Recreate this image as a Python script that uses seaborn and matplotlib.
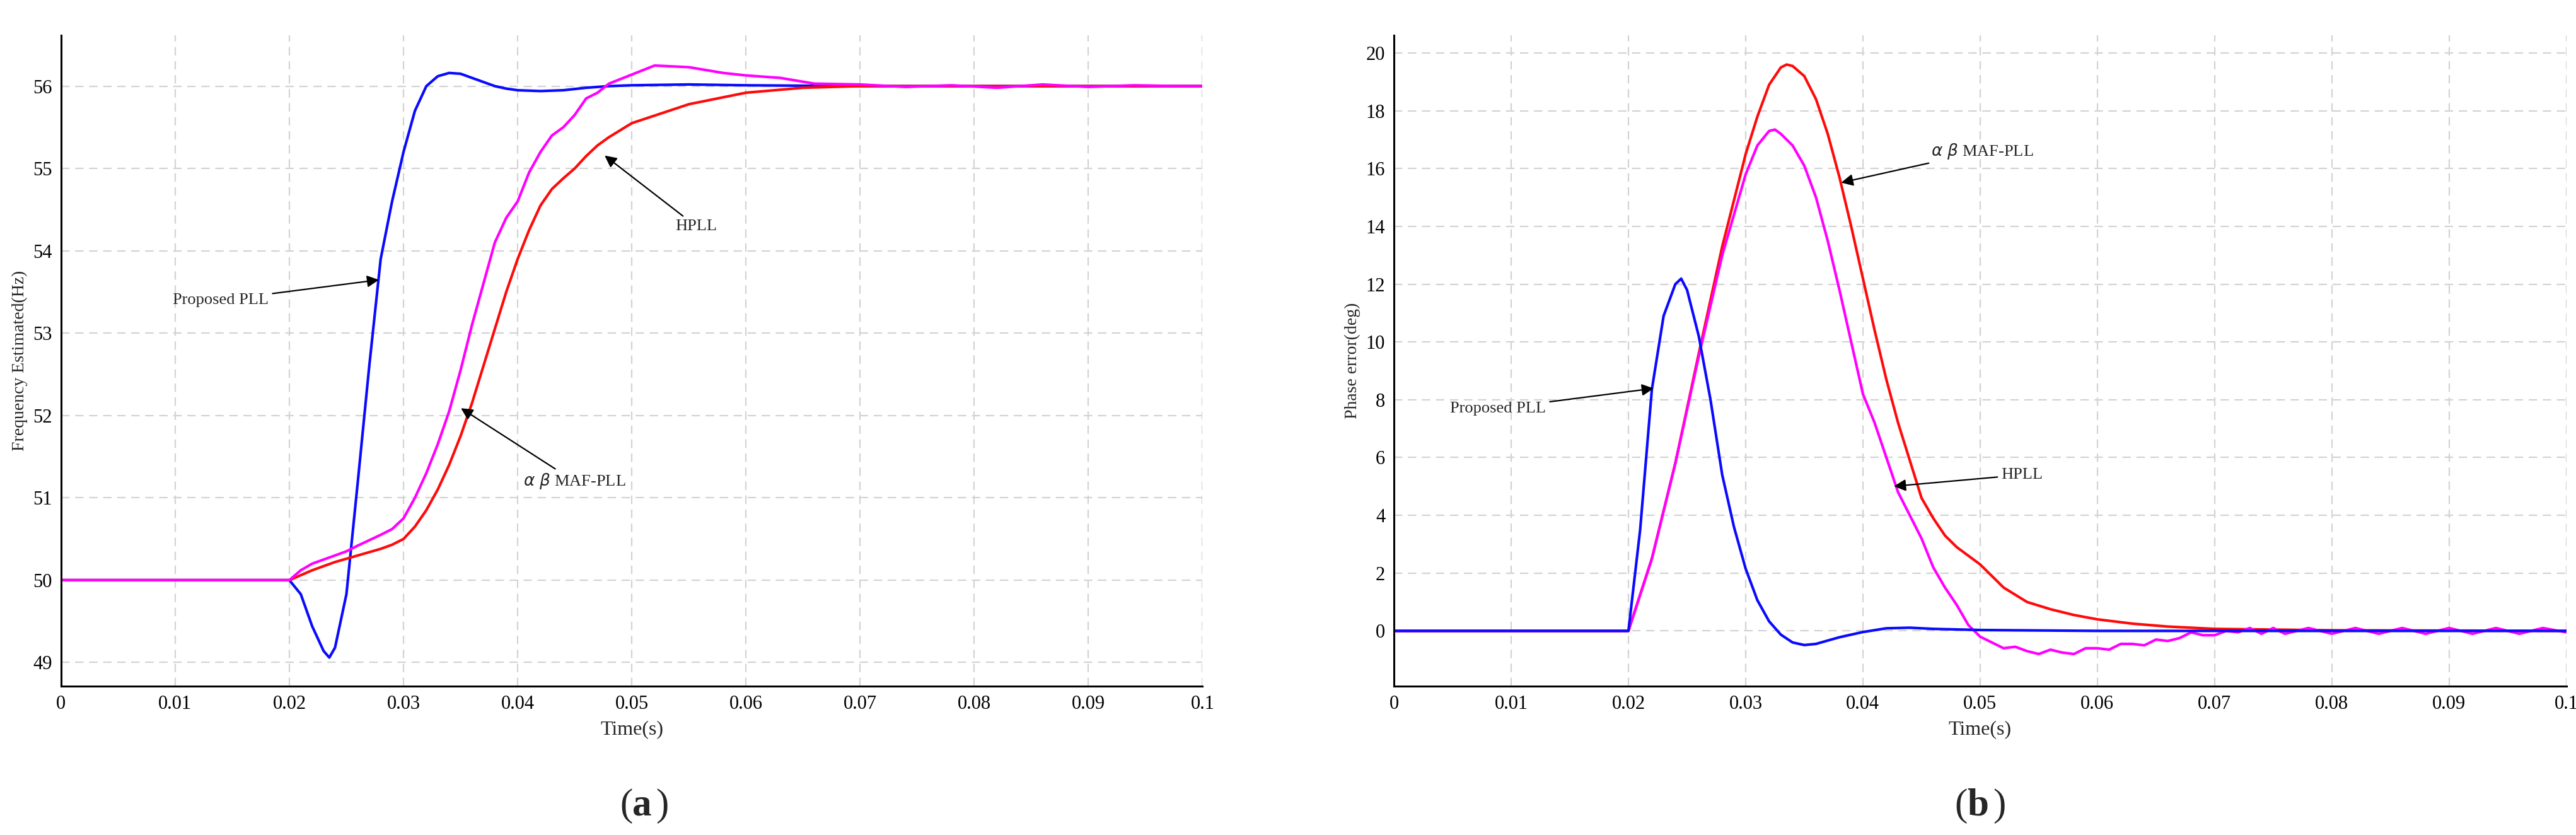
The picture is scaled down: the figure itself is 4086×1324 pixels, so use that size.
import numpy as np
import pandas as pd
import matplotlib
matplotlib.use("Agg")
import matplotlib.pyplot as plt
import seaborn as sns
from matplotlib.ticker import MultipleLocator

sns.set_theme(style="white")
plt.rcParams['font.family'] = ['Liberation Serif', 'DejaVu Serif']

# ---- panel (a): frequency estimated ----
t_prop_a = [0, 0.02, 0.021, 0.022, 0.023, 0.0235, 0.024, 0.025, 0.026, 0.027, 0.028, 0.029,
            0.030, 0.031, 0.032, 0.033, 0.034, 0.035, 0.036, 0.037, 0.038, 0.039, 0.040,
            0.042, 0.044, 0.046, 0.048, 0.05, 0.055, 0.06, 0.07, 0.1]
f_prop_a = [50, 50, 49.83, 49.44, 49.14, 49.06, 49.18, 49.83, 51.2, 52.6, 53.9, 54.6,
            55.2, 55.7, 56.0, 56.12, 56.16, 56.15, 56.1, 56.05, 56.0, 55.97, 55.95,
            55.94, 55.95, 55.98, 56.0, 56.01, 56.02, 56.01, 56.0, 56.0]

t_hpll_a = [0, 0.02, 0.022, 0.024, 0.026, 0.028, 0.029, 0.030, 0.031, 0.032, 0.033, 0.034,
            0.035, 0.036, 0.037, 0.038, 0.039, 0.040, 0.041, 0.042, 0.043, 0.044, 0.045,
            0.046, 0.047, 0.048, 0.05, 0.055, 0.06, 0.065, 0.07, 0.1]
f_hpll_a = [50, 50, 50.12, 50.22, 50.3, 50.38, 50.43, 50.5, 50.65, 50.85, 51.1, 51.4,
            51.75, 52.15, 52.6, 53.05, 53.5, 53.9, 54.25, 54.55, 54.75, 54.88, 55.0,
            55.15, 55.28, 55.38, 55.55, 55.78, 55.92, 55.98, 56.0, 56.0]

t_maf_a = [0, 0.02, 0.021, 0.022, 0.024, 0.025, 0.026, 0.028, 0.029, 0.030, 0.031, 0.032,
           0.033, 0.034, 0.035, 0.036, 0.037, 0.038, 0.039, 0.040, 0.041, 0.042, 0.043,
           0.044, 0.045, 0.046, 0.047, 0.048, 0.05, 0.052, 0.055, 0.058, 0.06, 0.063,
           0.066, 0.07, 0.074, 0.078, 0.082, 0.086, 0.09, 0.094, 0.098, 0.1]
f_maf_a = [50, 50, 50.12, 50.2, 50.3, 50.35, 50.42, 50.55, 50.62, 50.75, 51.0, 51.3,
           51.65, 52.05, 52.55, 53.1, 53.6, 54.1, 54.4, 54.6, 54.95, 55.2, 55.4,
           55.5, 55.65, 55.85, 55.92, 56.03, 56.14, 56.25, 56.23, 56.16, 56.13, 56.1,
           56.03, 56.02, 55.99, 56.01, 55.98, 56.02, 55.99, 56.01, 56.0, 56.0]

# ---- panel (b): phase error ----
t_prop_b = [0, 0.02, 0.021, 0.022, 0.023, 0.024, 0.0245, 0.025, 0.026, 0.027, 0.028, 0.029,
            0.030, 0.031, 0.032, 0.033, 0.034, 0.035, 0.036, 0.038, 0.040, 0.042, 0.044,
            0.046, 0.05, 0.06, 0.1]
e_prop_b = [0, 0, 3.5, 8.36, 10.9, 12.0, 12.19, 11.8, 10.2, 8.0, 5.4, 3.6,
            2.15, 1.06, 0.33, -0.13, -0.4, -0.49, -0.45, -0.22, -0.04, 0.09, 0.11,
            0.07, 0.03, 0.0, 0.0]

t_maf_b = [0, 0.02, 0.022, 0.024, 0.026, 0.028, 0.030, 0.031, 0.032, 0.033, 0.0335, 0.034,
           0.035, 0.036, 0.037, 0.038, 0.039, 0.040, 0.041, 0.042, 0.043, 0.044, 0.045,
           0.046, 0.047, 0.048, 0.049, 0.050, 0.052, 0.054, 0.056, 0.058, 0.06, 0.063,
           0.066, 0.07, 0.08, 0.1]
e_maf_b = [0, 0, 2.5, 5.8, 9.6, 13.3, 16.5, 17.8, 18.9, 19.5, 19.6, 19.55,
           19.2, 18.4, 17.2, 15.7, 14.0, 12.2, 10.4, 8.7, 7.2, 5.9, 4.6,
           3.9, 3.3, 2.9, 2.6, 2.3, 1.5, 1.0, 0.75, 0.55, 0.4, 0.25,
           0.15, 0.07, 0.02, 0.0]

t_hpll_b = [0, 0.02, 0.022, 0.024, 0.026, 0.028, 0.030, 0.031, 0.032, 0.0325, 0.033, 0.034,
            0.035, 0.036, 0.037, 0.038, 0.039, 0.040, 0.041, 0.042, 0.043, 0.044, 0.045,
            0.046, 0.047, 0.048, 0.049, 0.050, 0.051, 0.052, 0.053, 0.054, 0.055, 0.056,
            0.057, 0.058, 0.059, 0.060, 0.061, 0.062, 0.063, 0.064, 0.065, 0.066, 0.067,
            0.068, 0.069, 0.070, 0.071, 0.072, 0.073, 0.074, 0.075, 0.076, 0.078, 0.080,
            0.082, 0.084, 0.086, 0.088, 0.090, 0.092, 0.094, 0.096, 0.098, 0.1]
e_hpll_b = [0, 0, 2.5, 5.8, 9.5, 13.0, 15.8, 16.8, 17.3, 17.35, 17.2, 16.8,
            16.1, 15.0, 13.5, 11.8, 10.0, 8.2, 7.2, 6.0, 4.8, 4.0, 3.2,
            2.2, 1.5, 0.9, 0.2, -0.2, -0.4, -0.6, -0.55, -0.7, -0.8, -0.65,
            -0.75, -0.8, -0.6, -0.6, -0.65, -0.45, -0.45, -0.5, -0.3, -0.35, -0.25,
            -0.05, -0.15, -0.15, 0.0, -0.05, 0.1, -0.1, 0.1, -0.1, 0.1, -0.1,
            0.1, -0.1, 0.1, -0.1, 0.1, -0.1, 0.1, -0.1, 0.1, -0.05]

BLUE, RED, MAG = "#0a0aff", "#ff0a0a", "#ff00ff"

fig = plt.figure(figsize=(40.87, 13.24), dpi=100)
ax_a = fig.add_axes([0.0237, 0.178, 0.443, 0.78])
ax_b = fig.add_axes([0.541, 0.178, 0.455, 0.78])


def fmt(v, pos):
    return "0" if abs(v) < 1e-12 else f"{v:g}"


def style(ax, ylim, yticks, ymin, ylabel):
    ax.set_xlim(0, 0.1)
    ax.set_ylim(*ylim)
    ax.xaxis.set_major_locator(MultipleLocator(0.01))
    ax.xaxis.set_minor_locator(MultipleLocator(0.002))
    ax.set_yticks(yticks)
    ax.yaxis.set_minor_locator(MultipleLocator(ymin))
    ax.xaxis.set_major_formatter(plt.FuncFormatter(fmt))
    ax.yaxis.set_major_formatter(plt.FuncFormatter(fmt))
    ax.grid(True, which="major", color="#d3d3d3", linestyle=(0, (6, 4)), linewidth=1.6)
    for s in ["top", "right"]:
        ax.spines[s].set_visible(False)
    for s in ["left", "bottom"]:
        ax.spines[s].set_color("black")
        ax.spines[s].set_linewidth(2.2)
    ax.tick_params(which="major", direction="in", length=12, width=2, labelsize=22,
                   colors="black", pad=10)
    ax.tick_params(which="minor", direction="in", length=7, width=1.6, colors="black")
    ax.set_xlabel("Time(s)", fontsize=23, labelpad=8)
    ax.set_ylabel(ylabel, fontsize=20, labelpad=6)


sns.lineplot(x=t_prop_a, y=f_prop_a, ax=ax_a, color=BLUE, linewidth=3)
sns.lineplot(x=t_hpll_a, y=f_hpll_a, ax=ax_a, color=RED, linewidth=3)
sns.lineplot(x=t_maf_a, y=f_maf_a, ax=ax_a, color=MAG, linewidth=3)
style(ax_a, (48.71, 56.62), [49, 50, 51, 52, 53, 54, 55, 56], 0.2, "Frequency Estimated(Hz)")

sns.lineplot(x=t_maf_b, y=e_maf_b, ax=ax_b, color=RED, linewidth=3)
sns.lineplot(x=t_hpll_b, y=e_hpll_b, ax=ax_b, color=MAG, linewidth=3)
sns.lineplot(x=t_prop_b, y=e_prop_b, ax=ax_b, color=BLUE, linewidth=3)
style(ax_b, (-1.92, 20.62), list(range(0, 21, 2)), 0.5, "Phase error(deg)")

arrow = dict(arrowstyle="-|>", color="black", lw=1.6, mutation_scale=28)
tk = dict(fontsize=19, va="center")
ax_a.annotate("Proposed PLL", xy=(0.028, 53.65), xytext=(0.0098, 53.4),
              arrowprops=arrow, ha="left", **tk)
ax_a.annotate("HPLL", xy=(0.0475, 55.17), xytext=(0.0538, 54.3),
              arrowprops=arrow, ha="left", **tk)
ax_a.annotate(r"$\alpha\ \beta$ MAF-PLL", xy=(0.0349, 52.1), xytext=(0.0405, 51.2),
              arrowprops=arrow, ha="left", **tk)

ax_b.annotate("Proposed PLL", xy=(0.0223, 8.4), xytext=(0.0048, 7.7),
              arrowprops=arrow, ha="left", **tk)
ax_b.annotate("HPLL", xy=(0.0425, 5.0), xytext=(0.0518, 5.4),
              arrowprops=arrow, ha="left", **tk)
ax_b.annotate(r"$\alpha\ \beta$ MAF-PLL", xy=(0.038, 15.5), xytext=(0.0458, 16.6),
              arrowprops=arrow, ha="left", **tk)

fig.text(0.2455, 0.035, "(", fontsize=44, ha="right", va="center")
fig.text(0.2455, 0.035, "a", fontsize=44, ha="left", va="center", weight="bold")
fig.text(0.2545, 0.035, ")", fontsize=44, ha="left", va="center")
fig.text(0.7635, 0.035, "(", fontsize=44, ha="right", va="center")
fig.text(0.7635, 0.035, "b", fontsize=44, ha="left", va="center", weight="bold")
fig.text(0.7735, 0.035, ")", fontsize=44, ha="left", va="center")

fig.savefig("out.png", dpi=100, facecolor="white")
